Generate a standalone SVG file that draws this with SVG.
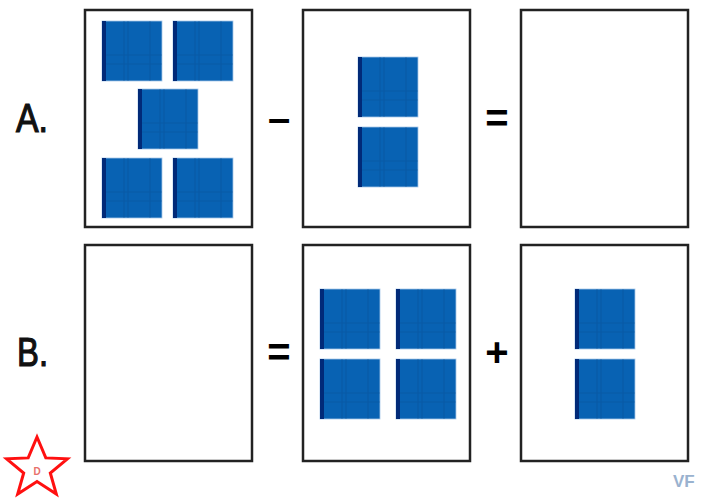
<svg xmlns="http://www.w3.org/2000/svg" xmlns:xlink="http://www.w3.org/1999/xlink" width="711" height="501" viewBox="0 0 711 501">
<style>
.box{fill:#fff;stroke:#222;stroke-width:2.5}
.lbl{font-family:"Liberation Sans",Arial,sans-serif;font-weight:bold;font-size:40px;fill:#111}
.op{font-family:"Liberation Sans",Arial,sans-serif;font-weight:bold;font-size:40px;fill:#000;text-anchor:middle}
</style>
<defs>
<g id="tile">
<rect x="0" y="0" width="60" height="60" fill="#0862b3" stroke="#a9c8e8" stroke-width="0.8"/>
<g stroke="#0a4d8f" stroke-width="1.2" opacity="0.35">
<line x1="22" y1="0" x2="22" y2="60"/>
<line x1="26" y1="0" x2="26" y2="60"/>
<line x1="48" y1="0" x2="48" y2="60"/>
<line x1="0" y1="34" x2="60" y2="34"/>
<line x1="0" y1="43" x2="60" y2="43"/>
</g>
<rect x="0" y="0" width="4" height="60" fill="#012a78"/>
</g>
</defs>
<rect width="711" height="501" fill="#fff"/>
<g id="labels">
<text class="lbl" x="16" y="132" font-size="41" textLength="32" lengthAdjust="spacingAndGlyphs" style="font-weight:normal;stroke:#111;stroke-width:1.2">A.</text>
<text class="lbl" x="17" y="366" font-size="41" textLength="31" lengthAdjust="spacingAndGlyphs" style="font-weight:normal;stroke:#111;stroke-width:1.2">B.</text>
</g>
<g id="boxA1">
<rect class="box" x="85" y="10" width="167" height="217"/>
<use xlink:href="#tile" x="102" y="21"/>
<use xlink:href="#tile" x="173" y="21"/>
<use xlink:href="#tile" x="138" y="89"/>
<use xlink:href="#tile" x="102" y="158"/>
<use xlink:href="#tile" x="173" y="158"/>
</g>
<g id="boxA2">
<rect class="box" x="303" y="10" width="167" height="217"/>
<use xlink:href="#tile" x="358" y="57"/>
<use xlink:href="#tile" x="358" y="127"/>
</g>
<g id="boxA3">
<rect class="box" x="521" y="10" width="167" height="217"/>
</g>
<g id="boxB1">
<rect class="box" x="85" y="245" width="167" height="216"/>
</g>
<g id="boxB2">
<rect class="box" x="303" y="245" width="167" height="216"/>
<use xlink:href="#tile" x="320" y="289"/>
<use xlink:href="#tile" x="396" y="289"/>
<use xlink:href="#tile" x="320" y="359"/>
<use xlink:href="#tile" x="396" y="359"/>
</g>
<g id="boxB3">
<rect class="box" x="521" y="245" width="167" height="216"/>
<use xlink:href="#tile" x="575" y="289"/>
<use xlink:href="#tile" x="575" y="359"/>
</g>
<g id="operators">
<text class="op" x="279" y="132">–</text>
<text class="op" x="497" y="132">=</text>
<text class="op" x="279" y="366">=</text>
<text class="op" x="497" y="366">+</text>
</g>
<g id="star">
<polygon points="37,437 45.8,457.9 67.4,458.8 50.3,473 56.3,494 37,481.5 17.7,494 23.7,473 6.6,458.8 28.2,457.9" fill="none" stroke="#ff1010" stroke-width="3" stroke-linejoin="miter"/>
<text x="37" y="475" font-family="Liberation Sans,Arial,sans-serif" font-weight="bold" font-size="10" fill="#e8706a" text-anchor="middle">D</text>
</g>
<text id="vf" x="673" y="487" font-family="Liberation Sans,Arial,sans-serif" font-weight="bold" font-size="17" fill="#9ab2cf">VF</text>
</svg>
